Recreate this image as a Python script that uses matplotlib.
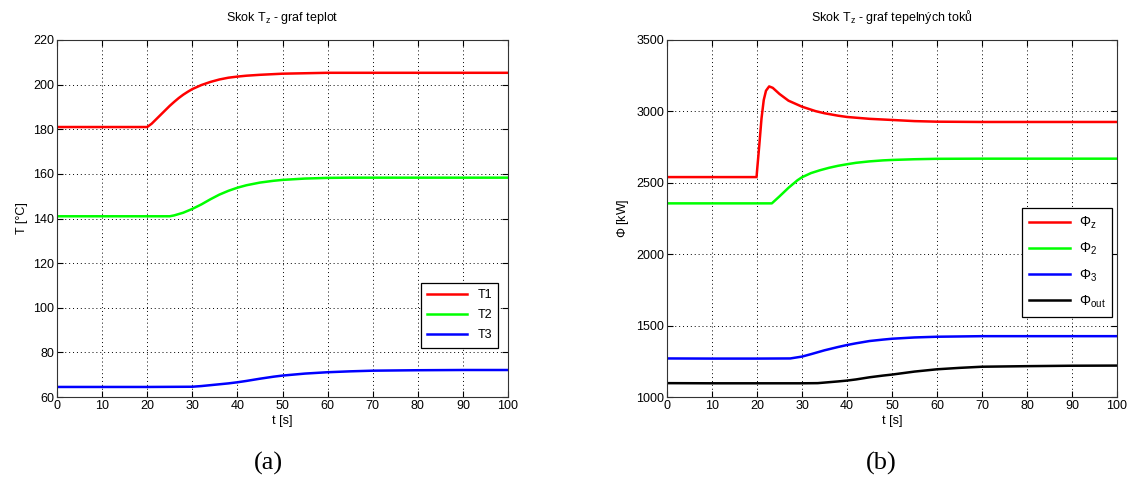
import matplotlib
matplotlib.use("Agg")
import matplotlib.pyplot as plt

plt.rcParams['font.family'] = ['Liberation Sans', 'DejaVu Sans']
plt.rcParams['mathtext.fontset'] = 'custom'
plt.rcParams['mathtext.rm'] = 'Liberation Sans'
plt.rcParams['mathtext.it'] = 'Liberation Sans'

# Left panel: temperatures
t_T = [0, 5, 10, 15, 20, 21, 22, 23, 24, 25, 26, 27, 28, 29, 30, 32, 34, 36, 38, 40, 42, 45, 48, 50, 55, 60, 70, 80, 90, 100]
T1 = [181, 181, 181, 181, 181, 182.5, 184.5, 186.5, 188.5, 190.5, 192.3, 194, 195.5, 196.8, 198, 199.8, 201.2, 202.3, 203.1, 203.6, 204.0, 204.4, 204.7, 204.9, 205.1, 205.3, 205.3, 205.3, 205.3, 205.3]
t_T2 = [0, 5, 10, 15, 20, 25, 26, 28, 30, 32, 34, 36, 38, 40, 42, 45, 48, 50, 55, 60, 65, 70, 80, 90, 100]
T2 = [141, 141, 141, 141, 141, 141, 141.4, 142.6, 144.3, 146.3, 148.6, 150.7, 152.4, 153.8, 154.9, 156.1, 156.9, 157.3, 157.9, 158.2, 158.3, 158.3, 158.3, 158.3, 158.3]
t_T3 = [0, 10, 20, 30, 32, 35, 38, 40, 42, 45, 48, 50, 55, 60, 65, 70, 80, 90, 100]
T3 = [64.5, 64.5, 64.5, 64.6, 64.9, 65.5, 66.1, 66.6, 67.2, 68.2, 69.1, 69.6, 70.5, 71.1, 71.5, 71.8, 72.0, 72.1, 72.1]

# Right panel: heat flows
t_Pz = [0, 5, 10, 15, 19.9, 20, 20.5, 21, 21.5, 22, 22.7, 23.5, 25, 27, 30, 33, 35, 38, 40, 45, 50, 55, 60, 70, 80, 90, 100]
Pz = [2540, 2540, 2540, 2540, 2540, 2580, 2760, 2950, 3080, 3145, 3175, 3165, 3122, 3075, 3033, 3002, 2987, 2970, 2961, 2948, 2940, 2932, 2928, 2926, 2926, 2926, 2926]
t_P2 = [0, 5, 10, 15, 20, 23.3, 25, 27, 29, 30, 32, 34, 36, 38, 40, 42, 45, 48, 50, 55, 60, 70, 80, 90, 100]
P2 = [2356, 2356, 2356, 2356, 2356, 2356, 2405, 2465, 2518, 2539, 2568, 2588, 2605, 2619, 2630, 2640, 2650, 2657, 2660, 2665, 2668, 2669, 2669, 2669, 2669]
t_P3 = [0, 10, 20, 27.4, 30, 32, 35, 38, 40, 42, 45, 48, 50, 55, 60, 70, 80, 90, 100]
P3 = [1270, 1269, 1269, 1270, 1283, 1300, 1327, 1350, 1364, 1376, 1392, 1402, 1408, 1417, 1422, 1426, 1426, 1426, 1426]
t_Pout = [0, 10, 20, 30, 33.5, 35, 38, 40, 42, 45, 48, 50, 55, 60, 65, 70, 80, 90, 100]
Pout = [1097, 1096, 1096, 1096, 1097, 1101, 1109, 1115, 1123, 1138, 1150, 1157, 1178, 1194, 1204, 1212, 1216, 1219, 1220]

fig = plt.figure(figsize=(11.36, 4.97), dpi=100)
W, H = 1136, 497
axL = fig.add_axes([57 / W, 1 - 397 / H, 451 / W, 357 / H])
axR = fig.add_axes([667 / W, 1 - 397 / H, 450 / W, 357 / H])

lw = 1.8
axL.plot(t_T, T1, color='#ff0000', lw=lw, label='T1')
axL.plot(t_T2, T2, color='#00ff00', lw=lw, label='T2')
axL.plot(t_T3, T3, color='#0000ff', lw=lw, label='T3')
axL.set_xlim(0, 100)
axL.set_ylim(60, 220)
axL.set_yticks(range(60, 221, 20))
axL.set_xticks(range(0, 101, 10))
axL.set_xlabel('t [s]', fontsize=9, labelpad=2)
axL.set_ylabel('T [°C]', fontsize=9, labelpad=4)
axL.set_title('Skok T$_z$ - graf teplot', fontsize=9, pad=14)

axR.plot(t_Pz, Pz, color='#ff0000', lw=lw, label=r'$\Phi_z$')
axR.plot(t_P2, P2, color='#00ff00', lw=lw, label=r'$\Phi_2$')
axR.plot(t_P3, P3, color='#0000ff', lw=lw, label=r'$\Phi_3$')
axR.plot(t_Pout, Pout, color='#000000', lw=lw, label=r'$\Phi_{out}$')
axR.set_xlim(0, 100)
axR.set_ylim(1000, 3500)
axR.set_yticks(range(1000, 3501, 500))
axR.set_xticks(range(0, 101, 10))
axR.set_xlabel('t [s]', fontsize=9, labelpad=2)
axR.set_ylabel(r'$\Phi$ [kW]', fontsize=9, labelpad=4)
axR.set_title('Skok T$_z$ - graf tepelných toků', fontsize=9, pad=14)

for ax in (axL, axR):
    ax.grid(True, color='black', linestyle=(0, (1, 3)), linewidth=0.7)
    ax.tick_params(labelsize=9, direction='in', length=4, top=True, right=True, pad=2)
    for s in ax.spines.values():
        s.set_color('#333333')
        s.set_linewidth(0.8)

legL = axL.legend(loc='lower right', bbox_to_anchor=(0.992, 0.121), fontsize=9,
                  frameon=True, fancybox=False, edgecolor='black', framealpha=1,
                  handlelength=3.2, borderpad=0.5, labelspacing=0.65)
legL.get_frame().set_linewidth(0.9)
legR = axR.legend(loc='upper right', bbox_to_anchor=(1.005, 0.549), fontsize=10,
                  frameon=True, fancybox=False, edgecolor='black', framealpha=1,
                  handlelength=3.0, borderpad=0.5, labelspacing=0.7, handletextpad=0.6)
legR.get_frame().set_linewidth(0.9)

fig.text(268 / W, 1 - 463 / H, '(a)', fontsize=19, ha='center', va='center', family='Liberation Serif')
fig.text(881 / W, 1 - 463 / H, '(b)', fontsize=19, ha='center', va='center', family='Liberation Serif')

fig.savefig('out.png', dpi=100)
